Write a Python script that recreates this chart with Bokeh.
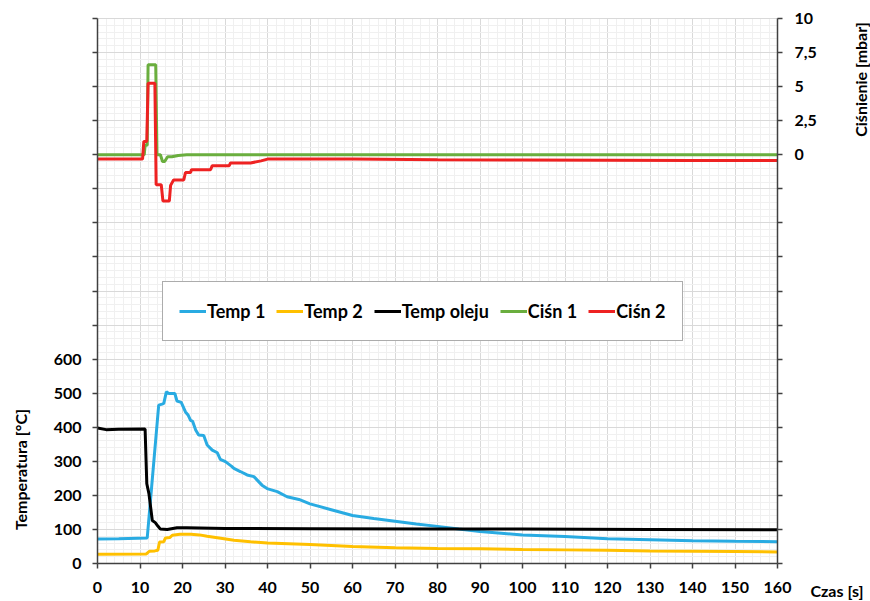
from bokeh.plotting import figure
from bokeh.models import (Range1d, LinearAxis, FixedTicker, Legend, LegendItem, Label)
from bokeh.embed import file_html
from bokeh.resources import INLINE
import math

# ---- data ----
t_temp1 = [0, 5, 11.7, 14.4, 15.2, 15.6, 16.2, 16.8, 18.2, 18.7, 19.7, 20.7, 21.3, 21.9, 22.4, 23.1, 23.8, 25.0, 25.8, 27.0, 28.2, 28.9, 30.1, 31.5, 32.1, 33.6, 35.2, 36.8, 38.7, 39.9, 42.3, 44.6, 47.4, 50, 55, 60, 65, 70, 75, 80, 85, 90, 95, 100, 110, 120, 130, 140, 150, 160]
temp1 = [72, 73, 75, 465, 468, 470, 504, 499, 499, 477, 473, 445, 436, 420, 417, 392, 377, 376, 348, 333, 325, 306, 299, 286, 279, 270, 260, 255, 230, 220, 211, 196, 188, 175, 158, 141, 132, 124, 116, 109, 101, 94, 89, 84, 79, 73, 70, 67, 65, 64]

t_temp2 = [0, 11.5, 12.2, 13.5, 14.2, 14.6, 15.6, 16.0, 17.0, 17.6, 19.4, 22, 24, 25.8, 29, 32.1, 36, 40, 45, 50, 60, 70, 80, 90, 100, 110, 120, 130, 140, 150, 160]
temp2 = [27, 28, 36, 37, 39, 63, 64, 75, 76, 83, 86, 86, 84, 80, 74, 68, 64, 60, 58, 56, 50, 46, 44, 43, 41, 40, 39, 37, 36, 35, 34]

t_oil = [0, 2, 5, 11.2, 11.6, 12.1, 12.9, 13.6, 14.2, 14.8, 16.4, 18.7, 21, 30, 50, 80, 100, 130, 160]
temp_oil = [398, 393, 394, 395, 234, 205, 126, 120, 110, 101, 100, 105, 105, 103, 102, 101, 101, 100, 99]

t_p1 = [0, 11.0, 11.2, 11.7, 11.9, 13.7, 14.0, 14.8, 15.3, 15.8, 16.5, 17.5, 19.0, 21.0, 40, 80, 120, 160]
p1 = [0, 0, 0.7, 0.7, 6.6, 6.6, 0, 0, -0.5, -0.5, -0.15, -0.15, -0.05, 0, 0, 0, 0, 0]

t_p2 = [0, 10.6, 10.9, 11.6, 11.9, 13.5, 13.8, 15.0, 15.4, 16.9, 17.2, 17.9, 20.3, 20.7, 21.9, 22.1, 26.6, 27.0, 31.0, 31.3, 36.0, 38.5, 40, 60, 80, 100, 120, 140, 160]
p2 = [-0.32, -0.32, 0.98, 0.98, 5.25, 5.25, -2.2, -2.2, -3.4, -3.4, -2.25, -1.85, -1.85, -1.3, -1.3, -1.1, -1.1, -0.8, -0.8, -0.6, -0.6, -0.45, -0.32, -0.32, -0.36, -0.38, -0.4, -0.42, -0.42]

x_ticks = list(range(0, 161, 10))
temp_ticks = list(range(0, 1601, 100))
temp_labels = {v: (str(v) if v <= 600 else "") for v in temp_ticks}
p_ticks = [-30 + 2.5 * i for i in range(17)]
p_labels = {}
for v in p_ticks:
    if v < 0:
        p_labels[v] = ""
    elif v == int(v):
        p_labels[v] = str(int(v))
    else:
        p_labels[v] = str(v).replace(".", ",")

names = ["Temp 1", "Temp 2", "Temp oleju", "Ciśn 1", "Ciśn 2"]
colors = ["#29ABE2", "#FFC000", "#000000", "#6AAE3E", "#EE2222"]

X0, X1, T0, T1, P0, P1 = 0, 160, 0, 1600, -30, 10

# ---- layout (pixels) ----
W, H = 870, 601
L, R, TOP, BOT = 97, 777, 18, 563          # plot area in canvas pixels
sx = (R - L) / (X1 - X0)
sy = (BOT - TOP) / (T1 - T0)
sp = (BOT - TOP) / (P1 - P0)
x_rng = Range1d(X0 - L / sx, X0 + (W - L) / sx)
y_rng = Range1d(T0 - (H - BOT) / sy, T0 + BOT / sy)
p_rng = Range1d(P0 - (H - BOT) / sp, P0 + BOT / sp)

FONT = "Lato"
FS = "16px"

p = figure(width=W, height=H, output_backend="svg", toolbar_location=None,
           x_range=x_rng, y_range=y_rng, min_border=0)
p.outline_line_color = None
p.extra_y_ranges = {"p": p_rng}

xt = FixedTicker(ticks=x_ticks, minor_ticks=list(range(0, 161, 2)))
yt = FixedTicker(ticks=temp_ticks, minor_ticks=list(range(0, 1601, 20)))

def style_axis(ax):
    ax.axis_line_color = "#404040"
    ax.axis_line_width = 1.5
    ax.major_tick_line_color = "#404040"
    ax.major_tick_line_width = 1.5
    ax.major_tick_in = 0
    ax.major_tick_out = 5
    ax.minor_tick_in = 0
    ax.minor_tick_out = 0
    ax.major_label_text_font = FONT
    ax.major_label_text_font_style = "bold"
    ax.major_label_text_font_size = FS
    ax.major_label_text_color = "#000000"

xa = p.xaxis[0]
ya = p.yaxis[0]
xa.ticker = xt
ya.ticker = yt
xa.fixed_location = T0
ya.fixed_location = X0
xa.bounds = (X0, X1)
ya.bounds = (T0, T1)
ya.major_label_overrides = temp_labels
style_axis(xa)
style_axis(ya)
xa.major_label_standoff = 13
ya.major_label_standoff = 11

raxis = LinearAxis(y_range_name="p", ticker=FixedTicker(ticks=p_ticks),
                   major_label_overrides=p_labels, fixed_location=X1, bounds=(P0, P1))
style_axis(raxis)
raxis.major_label_standoff = 12
p.add_layout(raxis, "right")

# grids
for g, tk, b, cb in ((p.xgrid[0], xt, (X0, X1), (T0, T1)), (p.ygrid[0], yt, (T0, T1), (X0, X1))):
    g.ticker = tk
    g.bounds = b
    if "cross_bounds" in g.properties():
        g.cross_bounds = cb
    g.grid_line_color = "#D9D9D9"
    g.grid_line_width = 1
    g.minor_grid_line_color = "#F0F0F0"
    g.minor_grid_line_width = 1

# lines
r1 = p.line(t_temp1, temp1, line_color=colors[0], line_width=3)
r2 = p.line(t_temp2, temp2, line_color=colors[1], line_width=3)
r3 = p.line(t_oil, temp_oil, line_color=colors[2], line_width=3)
r4 = p.line(t_p1, p1, line_color=colors[3], line_width=3, y_range_name="p")
r5 = p.line(t_p2, p2, line_color=colors[4], line_width=3, y_range_name="p")

legend = Legend(items=[LegendItem(label=n, renderers=[r]) for n, r in zip(names, [r1, r2, r3, r4, r5])],
                orientation="horizontal", location=(162, H - 341), margin=0,
                padding=16, spacing=11, glyph_width=27, label_standoff=1,
                label_height=26, glyph_height=20,
                label_text_font=FONT, label_text_font_style="bold",
                label_text_font_size="18px", label_text_color="#000000",
                border_line_color="#595959", border_line_width=1.5,
                background_fill_color="white", background_fill_alpha=1.0)
p.add_layout(legend, "center")

# axis titles
lab = dict(text_font=FONT, text_font_style="bold", text_font_size=FS, text_color="#000000")
p.add_layout(Label(x=X0 + (20 - L) / sx, y=T0 + (BOT - 469) / sy, angle=math.pi / 2,
                   text="Temperatura [°C]", text_align="center", text_baseline="middle", **lab))
p.add_layout(Label(x=X0 + (860 - L) / sx, y=T0 + (BOT - 79) / sy, angle=math.pi / 2,
                   text="Ciśnienie [mbar]", text_align="center", text_baseline="middle", **lab))
p.add_layout(Label(x=X0 + (863 - L) / sx, y=T0 + (BOT - 590) / sy,
                   text="Czas [s]", text_align="right", text_baseline="middle", **lab))

open("out.html", "w").write(file_html(p, INLINE))
